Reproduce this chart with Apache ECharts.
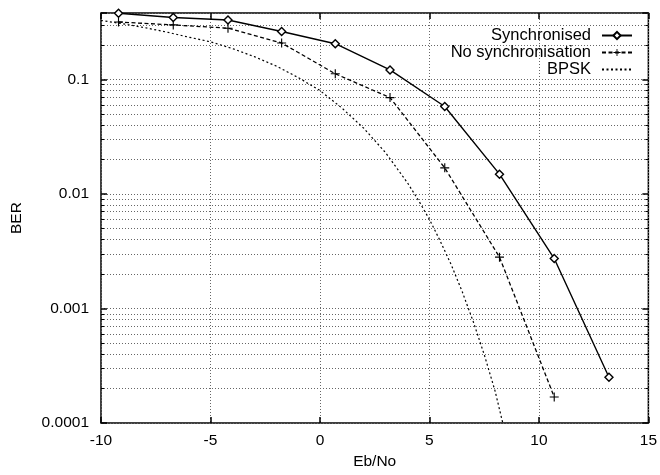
<!DOCTYPE html>
<html>
<head>
<meta charset="utf-8">
<script src="https://cdn.jsdelivr.net/npm/echarts@6/dist/echarts.min.js"></script>
<style>html,body{margin:0;padding:0;background:#fff}#c{width:660px;height:475px}</style>
</head>
<body>
<div id="c"></div>
<script>
// ---- data ----
var syncX = [-9.2, -6.7, -4.2, -1.75, 0.7, 3.2, 5.7, 8.2, 10.7, 13.2];
var syncBER = [0.378, 0.347, 0.330, 0.262, 0.205, 0.121, 0.058, 0.0149, 0.00273, 0.000251];
var noSyncX = [-9.2, -6.7, -4.2, -1.75, 0.7, 3.2, 5.7, 8.2, 10.7];
var noSyncBER = [0.317, 0.299, 0.280, 0.208, 0.112, 0.0694, 0.0169, 0.00281, 0.000169];
var bpskX = [-10, -9, -8, -7, -6, -5, -4, -3, -2, -1, 0, 1, 2, 3, 4, 4.5, 5, 5.5, 6, 6.5, 7, 7.5, 8, 8.35];
var bpskBER = [0.327, 0.306, 0.283, 0.259, 0.234, 0.213, 0.186, 0.158, 0.131, 0.104, 0.080, 0.0563, 0.0375, 0.0229, 0.0125, 0.0088, 0.0060, 0.00386, 0.0024, 0.0014, 0.00077, 0.000398, 0.00019, 0.0001];
var seriesNames = ['Synchronised', 'No synchronisation', 'BPSK'];
var xTicks = [-10, -5, 0, 5, 10, 15];
var yTickValues = [0.0001, 0.001, 0.01, 0.1];
var yTickLabels = ['0.0001', '0.001', '0.01', '0.1'];
var yMax = 0.38;

function zip(xs, ys){ return xs.map(function(x,i){return [x, ys[i]];}); }
var FONT = 'Liberation Sans';
var gridLine = {color:'#666', width:1, type:[1,2]};
var plusPath = 'path://M3.5,0H4.5V3.5H8V4.5H4.5V8H3.5V4.5H0V3.5H3.5Z';

var chart = echarts.init(document.getElementById('c'), null, {renderer:'canvas'});
chart.setOption({
  animation:false,
  backgroundColor:'#fff',
  textStyle:{fontFamily:FONT, color:'#000'},
  grid:{left:101, right:11, top:13, bottom:43, show:true, borderColor:'#000', borderWidth:1.5, containLabel:false},
  legend:{
    data:[seriesNames[0], seriesNames[1], {name:seriesNames[2], itemStyle:{opacity:0}}],
    orient:'vertical', right:27, top:27, padding:0,
    align:'right', itemWidth:30, itemHeight:9, itemGap:0,
    textStyle:{fontFamily:FONT, fontSize:16.5, color:'#000', lineHeight:14, padding:[0,6,0,0]},
    selectedMode:false
  },
  xAxis:[{
    type:'value', min:-10, max:15, interval:5, position:'bottom',
    name:'Eb/No', nameLocation:'middle', nameGap:28,
    nameTextStyle:{fontFamily:FONT, fontSize:15.5, color:'#000'},
    axisLine:{show:false, onZero:false},
    axisTick:{show:true, inside:true, length:6, lineStyle:{color:'#000', width:1.5}},
    axisLabel:{fontFamily:FONT, fontSize:15.5, color:'#000', margin:10,
      formatter:function(v){ var i = xTicks.indexOf(Math.round(v)); return i>=0 ? String(xTicks[i]) : ''; }},
    splitLine:{show:true, lineStyle:gridLine}
  },{
    type:'value', min:-10, max:15, interval:5, position:'top',
    axisLine:{show:false, onZero:false}, axisLabel:{show:false}, splitLine:{show:false},
    axisTick:{show:true, inside:true, length:6, lineStyle:{color:'#000', width:1.5}}
  }],
  yAxis:[{
    type:'log', logBase:10, min:0.0001, max:yMax, position:'left',
    name:'BER', nameLocation:'middle', nameGap:76, nameRotate:90,
    nameTextStyle:{fontFamily:FONT, fontSize:15.5, color:'#000'},
    axisLine:{show:false, onZero:false},
    axisTick:{show:true, inside:true, length:6, lineStyle:{color:'#000', width:1.5}},
    minorTick:{show:true, splitNumber:9, length:3, lineStyle:{color:'#000', width:1}},
    minorSplitLine:{show:true, lineStyle:gridLine},
    axisLabel:{fontFamily:FONT, fontSize:15.5, color:'#000', margin:12, showMaxLabel:false,
      formatter:function(v){
        for (var i=0;i<yTickValues.length;i++){ if (Math.abs(Math.log10(v)-Math.log10(yTickValues[i]))<1e-6) return yTickLabels[i]; }
        return '';
      }},
    splitLine:{show:true, lineStyle:gridLine}
  },{
    type:'log', logBase:10, min:0.0001, max:yMax, position:'right',
    axisLine:{show:false, onZero:false}, axisLabel:{show:false}, splitLine:{show:false},
    axisTick:{show:true, inside:true, length:6, lineStyle:{color:'#000', width:1.5}},
    minorTick:{show:true, splitNumber:9, length:3, lineStyle:{color:'#000', width:1}}
  }],
  series:[
    {
      name:seriesNames[0], type:'line', data:zip(syncX, syncBER), z:5,
      symbol:'diamond', symbolSize:8, showAllSymbol:true,
      lineStyle:{color:'#000', width:1.4, type:'solid'},
      itemStyle:{color:'#fff', borderColor:'#000', borderWidth:1.4}
    },
    {
      name:seriesNames[1], type:'line', data:zip(noSyncX, noSyncBER), z:4,
      symbol:plusPath, symbolSize:9, showAllSymbol:true,
      lineStyle:{color:'#000', width:1.3, type:[4,2.5]},
      itemStyle:{color:'#000'}
    },
    {
      name:seriesNames[2], type:'line', data:zip(bpskX, bpskBER), z:3,
      symbol:'none', showSymbol:false,
      lineStyle:{color:'#000', width:1.2, type:[2,2.5]},
      itemStyle:{color:'#000'}
    }
  ]
});
</script>
</body>
</html>
